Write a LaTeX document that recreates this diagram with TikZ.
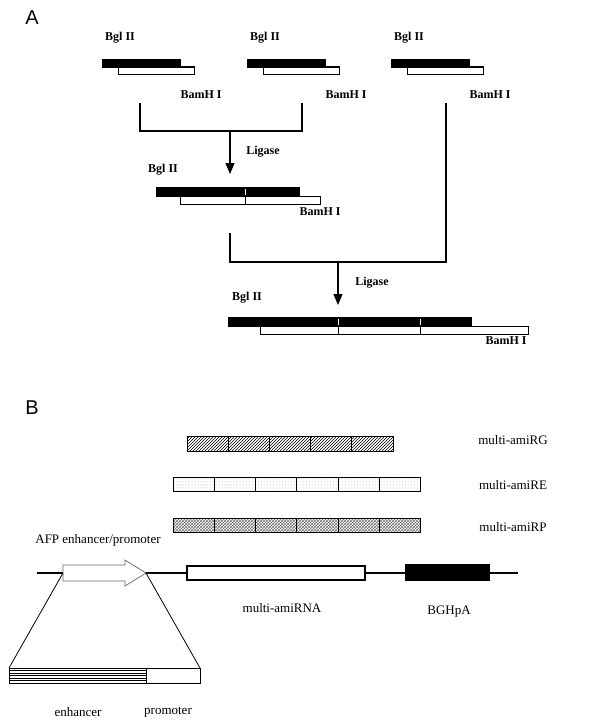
\documentclass[tikz,border=0pt]{standalone}
\usepackage{fontspec}
\setmainfont{Liberation Serif}
\newfontfamily\panelfont{Liberation Sans}
\usetikzlibrary{patterns,arrows.meta,shapes.arrows}
\tikzset{
  lbl/.style={font=\fontsize{13}{15}\selectfont},
  enz/.style={font=\fontsize{12}{14}\selectfont\bfseries},
  blk/.style={draw,fill=black},
  wht/.style={draw,fill=white,line width=1pt},
  cut/.style={draw=white,line width=0.8pt},
  seg/.style={draw,line width=0.8pt},
}
\begin{document}
\begin{tikzpicture}[x=1pt,y=-1pt,line width=1.1pt]
\useasboundingbox (0,0) rectangle (600,725);
% panel A
\node[font=\panelfont\fontsize{20}{24}\selectfont] (pa) at (32,18) {A};
\foreach \x/\n in {103/1,248/2,392/3}{
  \draw[wht] (\x+15,67) rectangle (\x+91,74);
  \draw[blk] (\x,60) rectangle (\x+77,67);
  \node[enz] (bgl\n) at (\x+17,38) {Bgl II};
  \node[enz] (bam\n) at (\x+98,95) {BamH I};
}
\coordinate (l1) at (140,103); \coordinate (l2) at (302,103); \coordinate (l3) at (446,103);
\coordinate (j1) at (140,131); \coordinate (j2) at (302,131); \coordinate (m1) at (230,131);
\draw (l1) -- (j1) -- (j2) -- (l2); % first join
\coordinate (a1) at (230,174);
\draw[-{Triangle[length=11pt,width=9pt]}] (m1) -- (a1);
\node[enz] (lig1) at (263,152) {Ligase};
\node[enz] (bgl4) at (163,170) {Bgl II};
\draw[wht] (180,196) rectangle (320,204);
\draw[blk] (157,188) rectangle (299,196);
\draw[line width=0.7pt] (245,196) -- (245,204);
\draw[cut] (245,189) -- (245,195);
\node[enz] (bam4) at (320,212) {BamH I};
\coordinate (l4) at (230,233); \coordinate (j4) at (230,262); \coordinate (j3) at (446,262);
\coordinate (m2) at (338,262); \coordinate (a2) at (338,305);
\draw (l4) -- (j4) -- (j3) -- (l3); % second join
\draw[-{Triangle[length=11pt,width=9pt]}] (m2) -- (a2);
\node[enz] (lig2) at (372,283) {Ligase};
\node[enz] (bgl5) at (247,298) {Bgl II};
\draw[wht] (260,326) rectangle (528,334);
\draw[blk] (229,318) rectangle (471,326);
\foreach \x in {338,420}{
  \draw[line width=0.7pt] (\x,326) -- (\x,334);
  \draw[cut] (\x,319) -- (\x,325);
}
\node[enz] (bam5) at (506,341) {BamH I};
% panel B
\node[font=\panelfont\fontsize{20}{24}\selectfont] (pb) at (32,408) {B};
\draw[seg,pattern=north east lines] (187,436) rectangle (393,451);
\foreach \x in {228,269,310,351} \draw[seg] (\x,436) -- (\x,451);
\draw[seg,pattern=dots,pattern color=gray!70] (173,477) rectangle (420,491);
\foreach \x in {214,255,296,338,379} \draw[seg] (\x,477) -- (\x,491);
\draw[seg,pattern=crosshatch,pattern color=gray!90!black] (173,518) rectangle (420,532);
\foreach \x in {214,255,296,338,379} \draw[seg] (\x,518) -- (\x,532);
\node[lbl] (rg) at (513,440) {multi-amiRG};
\node[lbl] (re) at (513,485) {multi-amiRE};
\node[lbl] (rp) at (513,527) {multi-amiRP};
\node[lbl] (afp) at (98,540) {AFP enhancer/promoter};
\coordinate (b0) at (37,573); \coordinate (b1) at (518,573);
\draw[line width=1.4pt] (b0) -- (b1); % backbone
\draw[fill=white,line width=0.7pt,draw=gray!80!black] (63,565) -- (125,565) -- (125,560) -- (146,573) -- (125,586) -- (125,581) -- (63,581) -- cycle;
\draw[fill=white] (187,566) rectangle (365,580);
\draw[fill=black] (406,565) rectangle (489,580);
\node[lbl] (mrna) at (282,608) {multi-amiRNA};
\node[lbl] (bgh) at (449,612) {BGHpA};
\coordinate (p1) at (63,573); \coordinate (p2) at (146,573);
\coordinate (q1) at (9,668); \coordinate (q2) at (200,668);
\draw[line width=0.8pt] (p1) -- (q1);
\draw[line width=0.8pt] (p2) -- (q2);
\draw[line width=0.8pt] (9,668) rectangle (200,683);
\foreach \y in {670.5,673,...,681} \draw[line width=0.3pt] (9,\y) -- (146,\y);
\draw[line width=0.8pt] (146,668) -- (146,683);
\node[lbl] (enh) at (78,712) {enhancer};
\node[lbl] (prom) at (168,712) {promoter};
\end{tikzpicture}
\end{document}
